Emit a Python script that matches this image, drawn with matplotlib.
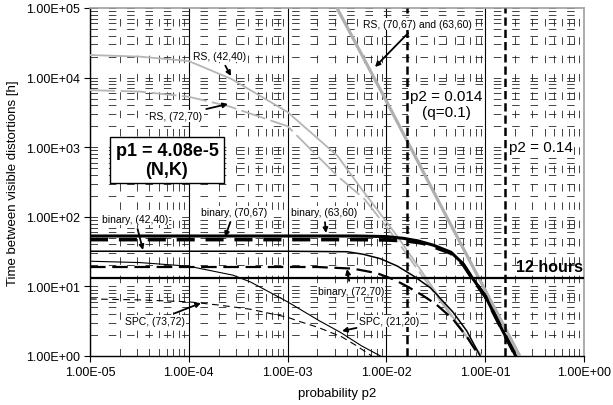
import matplotlib
matplotlib.use('Agg')
import matplotlib.pyplot as plt
from matplotlib.ticker import FixedLocator, NullFormatter, LogLocator

plt.rcParams['font.family'] = ['Liberation Sans', 'DejaVu Sans']

# ---------------- data ----------------
x_ticks = [1e-5, 1e-4, 1e-3, 1e-2, 1e-1, 1e0]
x_ticklabels = ['1.00E-05', '1.00E-04', '1.00E-03', '1.00E-02', '1.00E-01', '1.00E+00']
y_ticks = [1e0, 1e1, 1e2, 1e3, 1e4, 1e5]
y_ticklabels = ['1.00E+00', '1.00E+01', '1.00E+02', '1.00E+03', '1.00E+04', '1.00E+05']

# RS (42,40)  - gray solid
rs4240_p = [1e-5, 3.2e-5, 1e-4, 2.7e-4, 1e-3, 3.2e-3, 5.5e-3, 1.26e-2, 2.5e-2, 5e-2, 8.9e-2]
rs4240_t = [21100, 20000, 17300, 9550, 3200, 750, 260, 55, 13.5, 3.2, 1.0]
# RS (72,70)  - gray dashed
rs7270_p = [1e-5, 3.2e-5, 1e-4, 2.5e-4, 1e-3, 3.2e-3, 6e-3, 1.26e-2, 2.5e-2, 5e-2, 9.3e-2]
rs7270_t = [6600, 6300, 5300, 3900, 2000, 385, 180, 47, 12, 3.1, 1.0]
# RS (70,67) and (63,60) - thick gray
rs7067_p = [3.16e-3, 1.0e-2, 4.07e-2, 2.24e-1]
rs7067_t = [1e5, 4.6e3, 100, 1.0]

# binary (63,60) - thick solid
b6360_p = [1e-5, 1e-3, 5e-3, 1e-2, 1.5e-2, 2.1e-2, 3e-2, 4.5e-2, 6e-2, 7.2e-2, 1e-1, 1.48e-1, 2.04e-1]
b6360_t = [53, 53, 53, 52, 49, 45, 39, 31, 21, 14, 7.3, 2.4, 1.0]
# binary (70,67) - thick dashed
b7067_p = [1e-5, 5e-3, 1e-2, 1.6e-2, 2.3e-2, 3e-2, 4.5e-2, 6e-2, 7.2e-2, 1e-1, 1.48e-1, 2.04e-1]
b7067_t = [47, 47, 46.5, 45, 42, 37, 30, 20.5, 13.8, 7.2, 2.4, 1.0]
# binary (42,40) - thin solid
b4240_p = [1e-5, 1e-3, 4e-3, 5.8e-3, 8.7e-3, 1.29e-2, 1.9e-2, 2.8e-2, 4.7e-2, 6.5e-2, 8.9e-2]
b4240_t = [32, 32, 31.5, 29, 25, 19.6, 14, 9.5, 4.3, 2.3, 1.0]
# binary (72,70) - thick dashed
b7270_p = [1e-5, 2e-3, 4.6e-3, 8e-3, 1.2e-2, 1.62e-2, 2.3e-2, 3.2e-2, 4.7e-2, 6.5e-2, 8.7e-2]
b7270_t = [19, 19, 18, 15.5, 12.5, 10, 7.5, 5.5, 3.4, 1.9, 1.0]
# SPC (21,20) - thin solid
spc2120_p = [1e-5, 3.2e-5, 1e-4, 2.8e-4, 4.2e-4, 1e-3, 2.1e-3, 3.4e-3, 5.6e-3, 8.7e-3]
spc2120_t = [23, 22, 19.5, 14.5, 11.6, 6.0, 3.2, 2.2, 1.4, 1.0]
# SPC (73,72) - thin dashed
spc7372_p = [1e-5, 3.2e-5, 1e-4, 2e-4, 4.2e-4, 1e-3, 1.35e-3, 2e-3, 3.5e-3, 5e-3, 7.1e-3]
spc7372_t = [6.6, 6.4, 6.0, 5.4, 4.7, 3.6, 3.1, 2.6, 1.9, 1.4, 1.0]

hours_line = 13.0
p2_lines = [0.016, 0.16]

# ---------------- figure ----------------
W, H = 613, 406
fig = plt.figure(figsize=(W / 100, H / 100), dpi=100)
L, R, T, B = 90, 584, 9, 357
ax = fig.add_axes([L / W, (H - B) / H, (R - L) / W, (B - T) / H])
ax.set_xscale('log')
ax.set_yscale('log')
ax.set_xlim(1e-5, 1)
ax.set_ylim(1, 1e5)

ax.xaxis.set_major_locator(FixedLocator(x_ticks))
ax.yaxis.set_major_locator(FixedLocator(y_ticks))
ax.set_xticklabels(x_ticklabels)
ax.set_yticklabels(y_ticklabels)
ax.xaxis.set_minor_locator(LogLocator(base=10, subs=range(2, 10), numticks=20))
ax.yaxis.set_minor_locator(LogLocator(base=10, subs=range(2, 10), numticks=20))
ax.xaxis.set_minor_formatter(NullFormatter())
ax.yaxis.set_minor_formatter(NullFormatter())
ax.tick_params(which='minor', length=0)
ax.tick_params(which='major', length=4, width=0.8, direction='out', labelsize=9, color='k')

dash_grid = (0, (9, 13))
ax.xaxis.grid(True, which='major', color='k', lw=0.8, ls='-')
ax.xaxis.grid(True, which='minor', color='#222222', lw=0.6, ls=dash_grid)
ax.yaxis.grid(True, which='both', color='#222222', lw=0.6, ls=dash_grid)
ax.set_axisbelow(True)

for s in ['left', 'bottom']:
    ax.spines[s].set_color('k')
    ax.spines[s].set_linewidth(1.0)
for s in ['top', 'right']:
    ax.spines[s].set_color('#a0a0a0')
    ax.spines[s].set_linewidth(1.2)

gray = '#b5b5b5'
# RS curves
ax.plot(rs4240_p, rs4240_t, color=gray, lw=1.3, zorder=3)
ax.plot(rs7270_p, rs7270_t, color=gray, lw=1.3, ls=(0, (14, 3)), zorder=3)
ax.plot(rs7067_p, rs7067_t, color='#b0b0b0', lw=2.3, zorder=3)

# binary curves
ax.plot(b6360_p, b6360_t, color='k', lw=2.2, zorder=4)
ax.plot(b7067_p, b7067_t, color='k', lw=2.6, ls=(0, (5, 3)), zorder=4)
ax.plot(b4240_p, b4240_t, color='k', lw=1.1, zorder=4)
ax.plot(b7270_p, b7270_t, color='k', lw=1.6, ls=(0, (7, 3)), zorder=4)

# SPC curves
ax.plot(spc2120_p, spc2120_t, color='k', lw=0.8, zorder=4)
ax.plot(spc7372_p, spc7372_t, color='k', lw=0.8, ls=(0, (6, 4)), zorder=4)

# reference lines
ax.axhline(hours_line, color='k', lw=1.6, zorder=4)
for xv in p2_lines:
    ax.axvline(xv, color='k', lw=1.8, ls=(0, (3.3, 1.6)), zorder=5)

ax.set_xlabel('probability p2', fontsize=9.5, labelpad=6)
ax.set_ylabel('Time between visible distortions [h]', fontsize=9.5, labelpad=5)


def af(x, y):
    return ((x - L) / (R - L), (B - y) / (B - T))


def note(text, txy, axy):
    ax.annotate(text, xy=af(*axy), xycoords='axes fraction',
                xytext=af(*txy), textcoords='axes fraction',
                fontsize=7.5, ha='center', va='center', zorder=6,
                bbox=dict(boxstyle='square,pad=0.1', fc='white', ec='none'),
                arrowprops=dict(arrowstyle='-|>', color='k', lw=1.3,
                                mutation_scale=7, shrinkA=3, shrinkB=0))


note('RS, (42,40)', (220, 57), (231, 77))
note('RS, (72,70)', (176, 117), (228, 105))
note('RS, (70,67) and (63,60)', (417, 25), (375, 68))
note('binary, (42,40)', (135, 220), (143, 251))
note('binary, (70,67)', (234, 213), (225, 238))
note('binary, (63,60)', (324, 213), (326, 234))
note('binary, (72,70)', (351, 292), (347, 270))
note('SPC, (73,72)', (155, 322), (201, 304))
note('SPC, (21,20)', (389, 322), (342, 332))

ax.text(*af(167, 161), 'p1 = 4.08e-5\n(N,K)', transform=ax.transAxes,
        fontsize=13, fontweight='bold', ha='center', va='center', zorder=6,
        linespacing=1.15,
        bbox=dict(boxstyle='square,pad=0.3', fc='white', ec='k', lw=1.0))
ax.text(*af(446, 105), 'p2 = 0.014\n(q=0.1)', transform=ax.transAxes,
        fontsize=11, ha='center', va='center', zorder=4.5, linespacing=1.1,
        bbox=dict(boxstyle='square,pad=0.15', fc='white', ec='none'))
ax.text(*af(541, 148), 'p2 = 0.14', transform=ax.transAxes,
        fontsize=11, ha='center', va='center', zorder=4.5,
        bbox=dict(boxstyle='square,pad=0.1', fc='white', ec='none'))
ax.text(*af(549, 268), '12 hours', transform=ax.transAxes,
        fontsize=11.5, fontweight='bold', ha='center', va='center', zorder=6)

fig.savefig('out.png', dpi=100)
